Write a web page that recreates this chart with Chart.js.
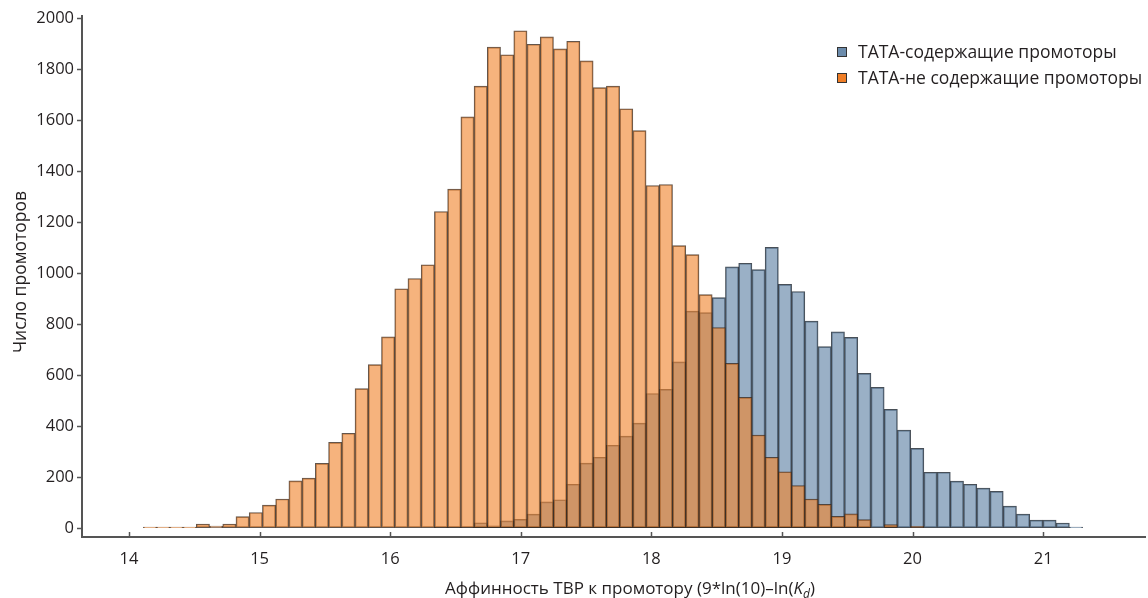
<!DOCTYPE html>
<html>
<head>
<meta charset="utf-8">
<script src="https://cdn.jsdelivr.net/npm/chart.js@4"></script>
<style>
  html, body { margin: 0; padding: 0; background: #fff; }
  canvas { display: block; }
</style>
</head>
<body>
<canvas id="chart" width="1148" height="598"></canvas>
<script>
// histogram bins: 71 bins, first left edge and width
const binStart = 14.11;
const binWidth = 0.1013;

// TATA-содержащие (blue), counts per bin
const tataCounts = [
    0, 0, 0, 0, 0, 0, 0, 0, 0, 0,
    0, 0, 0, 0, 0, 0, 0, 0, 0, 0,
    0, 0, 5, 5, 5, 21, 9, 28, 34, 55,
    103, 111, 172, 255, 278, 325, 361, 412, 528, 544,
    652, 851, 845, 904, 1025, 1039, 1014, 1101, 956, 928,
    812, 712, 770, 748, 607, 552, 466, 384, 313, 219,
    219, 184, 172, 157, 144, 86, 55, 31, 31, 20,
    4
];

// TATA-не содержащие (orange), counts per bin
const noTataCounts = [
    4, 4, 4, 4, 16, 8, 16, 45, 61, 90,
    114, 185, 196, 254, 336, 372, 547, 641, 750, 939,
    979, 1033, 1242, 1330, 1613, 1734, 1887, 1857, 1951, 1898,
    1927, 1880, 1910, 1833, 1728, 1734, 1645, 1559, 1344, 1348,
    1108, 1073, 916, 787, 646, 513, 365, 278, 221, 167,
    114, 93, 46, 56, 33, 0, 14, 0, 7, 0,
    0, 0, 0, 0, 0, 0, 0, 0, 0, 0,
    0
];

const xTicks = [14, 15, 16, 17, 18, 19, 20, 21];
const yTicks = [0, 200, 400, 600, 800, 1000, 1200, 1400, 1600, 1800, 2000];
const seriesNames = ['ТАТА-содержащие промоторы', 'ТАТА-не содержащие промоторы'];
const yTitle = 'Число промоторов';

const FONT = '"Open Sans", "Noto Sans", sans-serif';
const TEXT = '#231f20';
const AXIS = '#555555';

const blueBase = 'rgb(108, 140, 172)';
const blueFill = 'rgba(100, 134, 168, 0.65)';
const orangeBase = 'rgb(240, 126, 38)';
const orangeFill = 'rgba(241, 132, 45, 0.62)';

let binCenters = tataCounts.map((v, i) => binStart + binWidth * (i + 0.5));

function toPoints(counts) {
    // empty bins are left out so no zero-height outline is drawn
    return counts.map((v, i) => ({ x: binCenters[i], y: v > 0 ? v : null }));
}

// small inward x ticks, legend and axis titles
const decorPlugin = {
    id: 'decor',
    afterDraw(chart) {
        let ctx = chart.ctx;
        let area = chart.chartArea;
        let xs = chart.scales.x;
        ctx.save();

        ctx.strokeStyle = AXIS;
        ctx.lineWidth = 1.5;
        xTicks.forEach(v => {
            let px = Math.round(xs.getPixelForValue(v)) + 0.5;
            ctx.beginPath();
            ctx.moveTo(px, area.bottom);
            ctx.lineTo(px, area.bottom - 5);
            ctx.stroke();
        });

        // legend
        let legendColors = [blueBase, orangeBase];
        let legendY = [52, 78];
        ctx.font = '17.5px ' + FONT;
        ctx.textBaseline = 'middle';
        ctx.textAlign = 'left';
        seriesNames.forEach((name, i) => {
            ctx.fillStyle = legendColors[i];
            ctx.fillRect(837, legendY[i] - 5, 10, 10);
            ctx.strokeStyle = '#333';
            ctx.lineWidth = 1;
            ctx.strokeRect(837.5, legendY[i] - 4.5, 9, 9);
            ctx.fillStyle = TEXT;
            ctx.fillText(name, 858, legendY[i] + 1);
        });

        // x title with italic K and subscript d
        let parts = [
            { t: 'Аффинность ТВР к промотору (9*ln(10)–ln(', f: '17px ' + FONT, dy: 0 },
            { t: 'K', f: 'italic 17px ' + FONT, dy: 0 },
            { t: 'd', f: 'italic 12px ' + FONT, dy: 4 },
            { t: ')', f: '17px ' + FONT, dy: 0 }
        ];
        let total = 0;
        parts.forEach(p => { ctx.font = p.f; p.w = ctx.measureText(p.t).width; total += p.w; });
        let x = 630 - total / 2;
        ctx.textBaseline = 'alphabetic';
        ctx.fillStyle = TEXT;
        parts.forEach(p => {
            ctx.font = p.f;
            ctx.fillText(p.t, x, 594 + p.dy);
            x += p.w;
        });

        // y title
        ctx.translate(21, 272);
        ctx.rotate(-Math.PI / 2);
        ctx.font = '17.5px ' + FONT;
        ctx.textAlign = 'center';
        ctx.textBaseline = 'middle';
        ctx.fillText(yTitle, 0, 0);

        ctx.restore();
    }
};

let barCommon = {
    grouped: false,
    barPercentage: 1,
    categoryPercentage: 1,
    borderWidth: 1,
    borderSkipped: false
};

new Chart(document.getElementById('chart'), {
    type: 'bar',
    data: {
        datasets: [
            Object.assign({
                label: seriesNames[0],
                data: toPoints(tataCounts),
                backgroundColor: blueFill,
                borderColor: 'rgba(40, 48, 58, 0.85)',
                order: 2
            }, barCommon),
            Object.assign({
                label: seriesNames[1],
                data: toPoints(noTataCounts),
                backgroundColor: orangeFill,
                borderColor: 'rgba(60, 42, 30, 0.8)',
                order: 1
            }, barCommon)
        ]
    },
    options: {
        responsive: false,
        animation: false,
        devicePixelRatio: 1,
        layout: { padding: { top: 16, right: 3, left: 0, bottom: 0 } },
        plugins: {
            legend: { display: false },
            tooltip: { enabled: false }
        },
        scales: {
            x: {
                type: 'linear',
                offset: false,
                min: 13.64,
                max: 21.78,
                afterBuildTicks: scale => { scale.ticks = xTicks.map(v => ({ value: v })); },
                afterFit: scale => { scale.height = 61; },
                ticks: {
                    autoSkip: false,
                    maxRotation: 0,
                    padding: 12,
                    color: TEXT,
                    font: { family: FONT, size: 16.5 },
                    callback: v => String(v)
                },
                grid: { drawOnChartArea: false, drawTicks: false },
                border: { color: AXIS, width: 2 }
            },
            y: {
                min: -35,
                max: 2009,
                afterBuildTicks: scale => { scale.ticks = yTicks.map(v => ({ value: v })); },
                afterFit: scale => { scale.width = 82; },
                ticks: {
                    padding: 3,
                    color: TEXT,
                    font: { family: FONT, size: 16.5 },
                    callback: v => String(v)
                },
                grid: { drawOnChartArea: false, drawTicks: true, tickLength: 5, color: AXIS, tickWidth: 1.5 },
                border: { color: AXIS, width: 2 }
            }
        }
    },
    plugins: [decorPlugin]
});
</script>
</body>
</html>
